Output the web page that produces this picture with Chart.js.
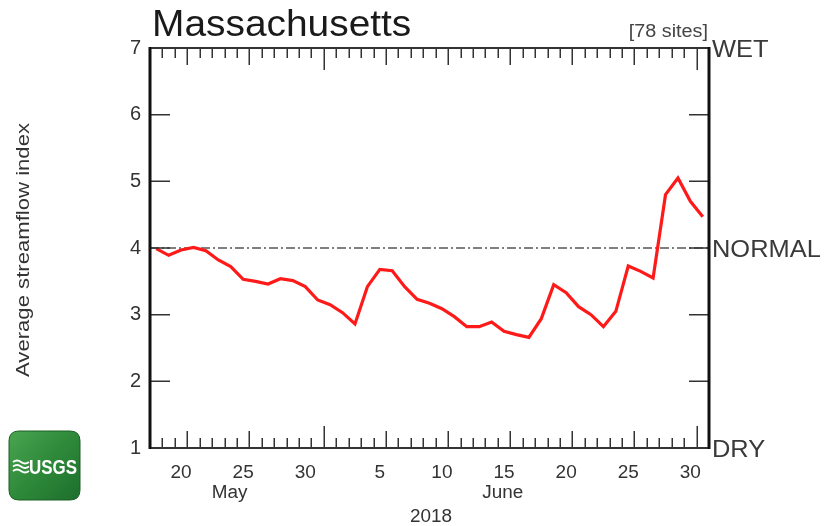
<!DOCTYPE html>
<html><head><meta charset="utf-8">
<script src="https://cdn.jsdelivr.net/npm/chart.js@4.4.1/dist/chart.umd.min.js"></script>
<style>html,body{margin:0;padding:0;background:#fff;overflow:hidden}#wrap{width:837px;height:526px;position:relative}</style>
</head><body><div id="wrap"><canvas id="c" width="837" height="526"></canvas></div>
<script>
// ---- data (days counted from 2018-05-18 00:00; one value per day, plotted at mid-day) ----
const dates = ['May 18','May 19','May 20','May 21','May 22','May 23','May 24','May 25','May 26','May 27','May 28','May 29','May 30','May 31',
  'Jun 1','Jun 2','Jun 3','Jun 4','Jun 5','Jun 6','Jun 7','Jun 8','Jun 9','Jun 10','Jun 11','Jun 12','Jun 13','Jun 14','Jun 15','Jun 16',
  'Jun 17','Jun 18','Jun 19','Jun 20','Jun 21','Jun 22','Jun 23','Jun 24','Jun 25','Jun 26','Jun 27','Jun 28','Jun 29','Jun 30','Jul 1'];
const streamflowIndex = [3.99,3.89,3.97,4.01,3.96,3.82,3.72,3.53,3.50,3.46,3.54,3.51,3.42,3.22,
  3.15,3.03,2.86,3.42,3.68,3.66,3.42,3.23,3.17,3.09,2.97,2.82,2.82,2.89,2.75,2.70,
  2.66,2.94,3.45,3.33,3.12,3.00,2.82,3.05,3.73,3.65,3.55,4.80,5.05,4.70,4.47];
const normalValue = 4;
const xTickDays = [2.5,7.5,12.5,18.5,23.5,28.5,33.5,38.5,43.5];
const xTickLabels = ['20','25','30','5','10','15','20','25','30'];
const majorTickDays = [3,8,19,24,29,34,39];
const monthBoundaryDays = [14,44];
const monthNames = ['May','June'];
const monthLabelDays = [6.4,28.4];
const yearLabel = '2018';
const yTickValues = [1,2,3,4,5,6,7];
const rightLabels = ['DRY','NORMAL','WET'];
const rightLabelValues = [1,4,7];
const titleText = 'Massachusetts';
const sitesText = '[78 sites]';
const yAxisTitle = 'Average streamflow index';

const FONT = '"Liberation Sans", Arial, Helvetica, sans-serif';
const points = streamflowIndex.map((v,i)=>({x:i+0.5,y:v}));

function txt(ctx, s, x, y, size, align, sx, color, base){
  ctx.save();
  ctx.font = size+'px '+FONT;
  ctx.fillStyle = color||'#333';
  ctx.textBaseline = base||'alphabetic';
  const w = ctx.measureText(s).width*sx;
  let left = align==='center'? x-w/2 : align==='right'? x-w : x;
  ctx.translate(left,y); ctx.scale(sx,1);
  ctx.textAlign='left';
  ctx.fillText(s,0,0);
  ctx.restore();
}

const decor = {
  id:'decor',
  afterDatasetsDraw(chart){
    const ctx = chart.ctx, xs = chart.scales.x, ys = chart.scales.y, a = chart.chartArea;
    ctx.save();
    // ticks
    ctx.strokeStyle='#333'; ctx.lineWidth=1.5;
    for(let d=1; d<45; d++){
      let len = 10;
      if(majorTickDays.includes(d)) len = 17;
      if(monthBoundaryDays.includes(d)) len = 22;
      const px = Math.round(xs.getPixelForValue(d))+0.25;
      ctx.beginPath();
      ctx.moveTo(px,a.bottom); ctx.lineTo(px,a.bottom-len);
      ctx.moveTo(px,a.top); ctx.lineTo(px,a.top+len);
      ctx.stroke();
    }
    yTickValues.forEach(v=>{
      const py = ys.getPixelForValue(v);
      ctx.beginPath();
      ctx.moveTo(a.left,py); ctx.lineTo(a.left+20,py);
      ctx.moveTo(a.right,py); ctx.lineTo(a.right-20,py);
      ctx.stroke();
    });
    // frame
    ctx.strokeStyle='#333'; ctx.lineWidth=2;
    ctx.beginPath(); ctx.moveTo(a.left,a.top); ctx.lineTo(a.right,a.top);
    ctx.moveTo(a.left,a.bottom); ctx.lineTo(a.right,a.bottom); ctx.stroke();
    ctx.strokeStyle='#111'; ctx.lineWidth=3;
    ctx.beginPath(); ctx.moveTo(a.left,a.top-1); ctx.lineTo(a.left,a.bottom+1);
    ctx.moveTo(a.right,a.top-1); ctx.lineTo(a.right,a.bottom+1); ctx.stroke();
    ctx.restore();

    // texts
    txt(ctx,titleText,a.left+2,36,36,'left',1.08,'#1a1a1a');
    txt(ctx,sitesText,a.right-1,37,18,'right',1.1,'#444');
    rightLabels.forEach((s,i)=>{
      txt(ctx,s,a.right+3,ys.getPixelForValue(rightLabelValues[i])+9,24,'left',1.06,'#3a3a3a');
    });
    monthNames.forEach((m,i)=>{
      txt(ctx,m,xs.getPixelForValue(monthLabelDays[i]),498,18,'center',1.05,'#333');
    });
    txt(ctx,yearLabel,431,522,18,'center',1.05,'#333');
    // y axis title
    ctx.save();
    ctx.translate(29,250); ctx.rotate(-Math.PI/2);
    ctx.font='18px '+FONT; ctx.fillStyle='#333'; ctx.textAlign='left'; ctx.textBaseline='alphabetic';
    const tw = ctx.measureText(yAxisTitle).width, sxx = 254/tw;
    ctx.scale(sxx,1);
    ctx.fillText(yAxisTitle,-tw/2,0);
    ctx.restore();
    // USGS logo
    ctx.save();
    const lx=9, ly=431, lw=71, lh=69, r=10;
    const g = ctx.createLinearGradient(lx,ly,lx+lw,ly+lh);
    g.addColorStop(0,'#49a54f'); g.addColorStop(0.5,'#2e8a3a'); g.addColorStop(1,'#1d6e2c');
    ctx.fillStyle=g;
    ctx.beginPath();
    ctx.moveTo(lx+r,ly); ctx.lineTo(lx+lw-r,ly); ctx.quadraticCurveTo(lx+lw,ly,lx+lw,ly+r);
    ctx.lineTo(lx+lw,ly+lh-r); ctx.quadraticCurveTo(lx+lw,ly+lh,lx+lw-r,ly+lh);
    ctx.lineTo(lx+r,ly+lh); ctx.quadraticCurveTo(lx,ly+lh,lx,ly+lh-r);
    ctx.lineTo(lx,ly+r); ctx.quadraticCurveTo(lx,ly,lx+r,ly); ctx.fill();
    ctx.strokeStyle='#1a5e25'; ctx.lineWidth=1; ctx.stroke();
    ctx.fillStyle='#fff';
    ctx.font='bold 20px "Liberation Sans Narrow", "Liberation Sans", Arial, sans-serif';
    ctx.textBaseline='alphabetic'; ctx.textAlign='left';
    const uw = ctx.measureText('USGS').width;
    ctx.save(); ctx.translate(29,474); ctx.scale(48/uw,1); ctx.fillText('USGS',0,0); ctx.restore();
    ctx.strokeStyle='#fff'; ctx.lineWidth=1.8;
    for(let k=0;k<3;k++){
      const yy=462+k*4.5;
      ctx.beginPath(); ctx.moveTo(13,yy);
      ctx.quadraticCurveTo(17,yy-3,21,yy); ctx.quadraticCurveTo(25,yy+3,29,yy); ctx.stroke();
    }
    ctx.restore();
  }
};

new Chart(document.getElementById('c'),{
  type:'line',
  data:{datasets:[
    {data:points, borderColor:'#ff1a1a', borderWidth:3.2, pointRadius:0, tension:0, order:1},
    {data:[{x:0,y:normalValue},{x:45,y:normalValue}], borderColor:'#555', borderWidth:1.5, borderDash:[9,3,2,3], pointRadius:0, order:2}
  ]},
  options:{
    responsive:false, animation:false, devicePixelRatio:1,
    layout:{padding:{left:0,right:128,top:48,bottom:0}},
    plugins:{legend:{display:false},tooltip:{enabled:false}},
    scales:{
      x:{type:'linear',min:0,max:45,
        grid:{display:false}, border:{display:false},
        afterBuildTicks(s){ s.ticks = xTickDays.map(v=>({value:v})); },
        afterFit(s){ s.height = 78; },
        ticks:{autoSkip:false,maxRotation:0,padding:5,color:'#333',font:{family:FONT,size:19},
          callback:(v)=>{const i=xTickDays.indexOf(v); return i>=0?xTickLabels[i]:'';}}
      },
      y:{min:1,max:7,
        grid:{display:false}, border:{display:false},
        afterBuildTicks(s){ s.ticks = yTickValues.map(v=>({value:v})); },
        afterFit(s){ s.width = 150; },
        ticks:{padding:1,color:'#333',font:{family:FONT,size:20}}
      }
    }
  },
  plugins:[decor]
});
</script></body></html>
